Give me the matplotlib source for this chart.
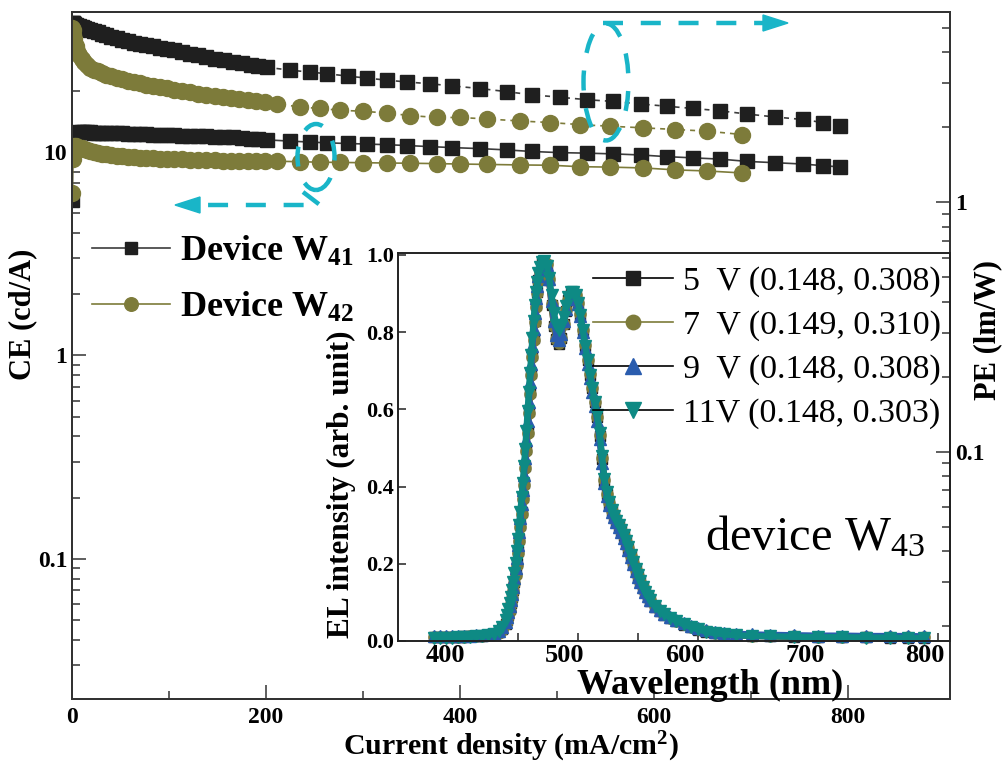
import numpy as np
import matplotlib
matplotlib.use('Agg')
import matplotlib.pyplot as plt
from matplotlib.ticker import FixedLocator, NullFormatter, FuncFormatter, LogLocator
from matplotlib.patches import Ellipse, Polygon
from matplotlib.lines import Line2D
from matplotlib.transforms import ScaledTranslation

plt.rcParams['font.family'] = 'serif'
plt.rcParams['font.serif'] = ['Liberation Serif', 'DejaVu Serif']
plt.rcParams['mathtext.fontset'] = 'custom'
plt.rcParams['mathtext.rm'] = 'Liberation Serif'
plt.rcParams['mathtext.bf'] = 'Liberation Serif:bold'
plt.rcParams['mathtext.it'] = 'Liberation Serif:italic'

"""
1. CE / PE vs current density (devices W41, W42)
"""
J41 = [0.3, 0.8, 1.5, 2.5, 4, 5.5, 7.5, 10, 12.5, 15.5, 19, 22.5, 26.5, 31, 35.5,
       40.5, 46, 51.5, 57.5, 63.5, 70, 76.5, 83.5, 90.5, 98, 105.5, 113.5, 121.5,
       130, 138.5, 147.5, 156.5, 166, 175, 184, 192, 201, 225, 245, 263, 284, 304,
       325, 345, 369, 392, 421, 448, 474, 503, 531, 558, 586, 613, 640, 668, 696,
       725, 753, 774, 792]
CE41 = [5.8, 10.5, 11.8, 12.2, 12.4, 12.45, 12.5, 12.5, 12.5, 12.5, 12.5, 12.45,
        12.45, 12.4, 12.4, 12.38, 12.35, 12.32, 12.3, 12.27, 12.24, 12.2, 12.17,
        12.13, 12.1, 12.07, 12.04, 12.0, 11.96, 11.92, 11.88, 11.84, 11.78, 11.7,
        11.62, 11.54, 11.46, 11.3, 11.18, 11.08, 11.0, 10.93, 10.85, 10.75, 10.62,
        10.5, 10.38, 10.23, 10.05, 9.92, 9.86, 9.78, 9.66, 9.48, 9.35, 9.22, 8.98,
        8.85, 8.72, 8.56, 8.44]
PE41 = [5.25, 5.25, 5.22, 5.18, 5.15, 5.12, 5.08, 5.04, 5.0, 4.95, 4.9, 4.85, 4.8,
        4.74, 4.68, 4.62, 4.55, 4.48, 4.42, 4.35, 4.31, 4.26, 4.22, 4.17, 4.12,
        4.07, 4.01, 3.95, 3.89, 3.83, 3.77, 3.72, 3.66, 3.61, 3.57, 3.52, 3.48,
        3.39, 3.33, 3.28, 3.21, 3.15, 3.09, 3.04, 2.99, 2.93, 2.86, 2.78, 2.70,
        2.64, 2.58, 2.54, 2.48, 2.43, 2.38, 2.33, 2.26, 2.20, 2.15, 2.09, 2.03]

J42 = [0.3, 0.8, 1.5, 2.5, 4, 5.5, 7.5, 10, 12.5, 15.5, 19, 22.5, 26.5, 31, 35.5,
       40.5, 46, 51.5, 57.5, 63.5, 70, 76.5, 83.5, 90.5, 98, 105.5, 113.5, 121.5,
       130, 138.5, 147, 155.5, 164, 172.5, 181, 190, 199, 211, 235, 256, 276, 300,
       325, 348, 376, 400, 428, 462, 493, 524, 555, 589, 622, 655, 691]
CE42 = [6.3, 9.2, 10.4, 10.7, 10.7, 10.6, 10.5, 10.4, 10.3, 10.2, 10.1, 10.0, 9.9,
        9.8, 9.72, 9.65, 9.58, 9.52, 9.47, 9.42, 9.38, 9.34, 9.31, 9.28, 9.25, 9.22,
        9.19, 9.16, 9.13, 9.11, 9.09, 9.07, 9.05, 9.04, 9.03, 9.02, 9.01, 9.0, 8.95,
        8.9, 8.88, 8.85, 8.82, 8.8, 8.76, 8.72, 8.68, 8.63, 8.6, 8.46, 8.42, 8.34,
        8.16, 8.06, 7.88]
PE42 = [5.0, 4.9, 4.7, 4.5, 4.25, 4.05, 3.9, 3.75, 3.65, 3.55, 3.47, 3.4, 3.35, 3.3,
        3.25, 3.2, 3.15, 3.12, 3.08, 3.05, 3.0, 2.96, 2.93, 2.9, 2.87, 2.83, 2.8,
        2.76, 2.72, 2.69, 2.66, 2.64, 2.62, 2.6, 2.57, 2.55, 2.52, 2.49, 2.41, 2.38,
        2.34, 2.32, 2.28, 2.23, 2.19, 2.19, 2.16, 2.12, 2.09, 2.05, 2.02, 1.99,
        1.96, 1.93, 1.87]

"""
2. EL spectra of device W43 (inset)
"""
wl = [380, 385, 390, 395, 400, 405, 410, 415, 420, 425, 430, 434, 437,
      440, 441, 442, 443, 444, 445, 446, 447, 448, 449, 450, 451, 452, 453, 454,
      455, 456, 457, 458, 459, 460, 461, 462, 463, 464, 465, 466, 467, 468,
      470, 472, 474, 476, 478, 480, 482, 484, 486, 488, 490, 492, 494, 496, 498,
      500, 502, 504, 506, 508, 510, 512, 514, 516, 518, 520, 522, 524, 526, 528,
      530, 532, 534, 536, 538, 540, 542, 544, 546, 548, 550, 552, 554, 556, 558,
      560, 564, 568, 572, 577, 582, 588, 594, 600, 607, 614, 622, 632, 645, 660,
      680, 700, 720, 740, 760, 775, 788]
el_5v = [0.010, 0.010, 0.010, 0.011, 0.011, 0.012, 0.012, 0.013, 0.014, 0.015, 0.018, 0.023, 0.030,
         0.045, 0.055, 0.068, 0.082, 0.098, 0.115, 0.132, 0.152, 0.175, 0.202, 0.232, 0.265, 0.300,
         0.335, 0.372, 0.410, 0.452, 0.497, 0.545, 0.595, 0.645, 0.693, 0.740, 0.785, 0.830, 0.870,
         0.905, 0.935, 0.955,
         0.978, 0.985, 0.975, 0.935, 0.870, 0.815, 0.782, 0.770, 0.785, 0.820, 0.855, 0.882, 0.898,
         0.902, 0.895, 0.875, 0.845, 0.805, 0.765, 0.727, 0.690, 0.655, 0.618, 0.580, 0.532, 0.472,
         0.415, 0.380, 0.356, 0.337, 0.322, 0.309, 0.297, 0.284, 0.271, 0.256, 0.239, 0.220, 0.201,
         0.183, 0.167, 0.152, 0.138, 0.126, 0.114, 0.104,
         0.089, 0.078, 0.068, 0.059, 0.051, 0.042, 0.035, 0.029, 0.024, 0.020, 0.017, 0.015, 0.013,
         0.012, 0.011, 0.010, 0.010, 0.010, 0.009, 0.009, 0.009]
el_7v = [0.010, 0.010, 0.010, 0.010, 0.011, 0.011, 0.012, 0.012, 0.013, 0.015, 0.018, 0.022, 0.029,
         0.043, 0.053, 0.065, 0.079, 0.095, 0.112, 0.130, 0.150, 0.172, 0.198, 0.228, 0.260, 0.295,
         0.330, 0.367, 0.405, 0.447, 0.492, 0.540, 0.590, 0.640, 0.688, 0.735, 0.780, 0.825, 0.866,
         0.902, 0.932, 0.953,
         0.977, 0.985, 0.976, 0.937, 0.872, 0.816, 0.782, 0.772, 0.786, 0.822, 0.857, 0.883, 0.899,
         0.903, 0.896, 0.876, 0.846, 0.806, 0.766, 0.728, 0.691, 0.656, 0.619, 0.581, 0.533, 0.473,
         0.416, 0.381, 0.357, 0.338, 0.323, 0.310, 0.298, 0.285, 0.272, 0.257, 0.240, 0.221, 0.202,
         0.184, 0.168, 0.153, 0.139, 0.127, 0.115, 0.105,
         0.090, 0.079, 0.069, 0.060, 0.052, 0.043, 0.036, 0.030, 0.025, 0.021, 0.018, 0.016, 0.014,
         0.013, 0.012, 0.011, 0.011, 0.010, 0.010, 0.010, 0.010]
el_9v = [0.012, 0.012, 0.012, 0.013, 0.013, 0.014, 0.014, 0.015, 0.016, 0.018, 0.021, 0.027, 0.035,
         0.050, 0.061, 0.075, 0.090, 0.106, 0.123, 0.141, 0.163, 0.188, 0.216, 0.248, 0.282, 0.318,
         0.354, 0.391, 0.431, 0.475, 0.521, 0.570, 0.620, 0.670, 0.717, 0.763, 0.808, 0.850, 0.888,
         0.920, 0.945, 0.962,
         0.980, 0.985, 0.974, 0.938, 0.880, 0.828, 0.792, 0.780, 0.795, 0.828, 0.860, 0.885, 0.900,
         0.903, 0.894, 0.873, 0.842, 0.800, 0.758, 0.718, 0.680, 0.645, 0.608, 0.570, 0.522, 0.462,
         0.408, 0.375, 0.352, 0.334, 0.320, 0.307, 0.295, 0.282, 0.268, 0.253, 0.236, 0.217, 0.199,
         0.182, 0.166, 0.152, 0.139, 0.127, 0.116, 0.106,
         0.091, 0.080, 0.071, 0.062, 0.054, 0.046, 0.039, 0.033, 0.028, 0.024, 0.021, 0.019, 0.017,
         0.016, 0.015, 0.014, 0.014, 0.013, 0.013, 0.013, 0.012]
el_11v = [0.008, 0.008, 0.009, 0.009, 0.010, 0.010, 0.011, 0.012, 0.013, 0.015, 0.019, 0.026, 0.036,
          0.055, 0.068, 0.082, 0.098, 0.115, 0.132, 0.152, 0.175, 0.202, 0.232, 0.265, 0.300, 0.335,
          0.372, 0.410, 0.452, 0.497, 0.545, 0.595, 0.645, 0.693, 0.740, 0.785, 0.830, 0.870, 0.905,
          0.930, 0.952, 0.968,
          0.982, 0.985, 0.972, 0.940, 0.895, 0.850, 0.818, 0.805, 0.815, 0.840, 0.868, 0.890, 0.903,
          0.905, 0.895, 0.875, 0.845, 0.805, 0.765, 0.727, 0.690, 0.655, 0.620, 0.585, 0.540, 0.480,
          0.420, 0.385, 0.360, 0.340, 0.325, 0.312, 0.300, 0.288, 0.275, 0.260, 0.243, 0.224, 0.205,
          0.187, 0.170, 0.155, 0.141, 0.128, 0.116, 0.106,
          0.090, 0.079, 0.069, 0.060, 0.052, 0.043, 0.036, 0.030, 0.024, 0.020, 0.017, 0.015, 0.013,
          0.012, 0.011, 0.010, 0.010, 0.009, 0.009, 0.008, 0.008]
el_labels = ['5  V (0.148, 0.308)', '7  V (0.149, 0.310)',
             '9  V (0.148, 0.308)', '11V (0.148, 0.303)']

# colours
blk = '#1f1f1f'
olv = '#7d7b3a'
blu = '#2a5cae'
tea = '#0e8a84'
cyan = '#19b5c8'

W, H = 1007, 765
fig = plt.figure(figsize=(W / 100, H / 100), dpi=100)

def fx(px):
    return px / W

def fy(py):
    return 1 - py / H

# main axes
ax = fig.add_axes([fx(72), fy(699), fx(950) - fx(72), fy(12) - fy(699)])
ax.set_yscale('log')
ax.set_xlim(0, 905)
ax.set_ylim(0.0205, 48.7)
ax2 = ax.twinx()
ax2.set_yscale('log')
ax2.set_ylim(0.0102, 5.8)

ax.plot(J41, CE41, '-', color='#3c3c3c', lw=1.2, marker='s', ms=10, mfc=blk, mec=blk,
        label=r'Device W$_{\mathbf{41}}$')
ax.plot(J42, CE42, '-', color=olv, lw=1.2, marker='o', ms=11.5, mfc=olv, mec=olv,
        label=r'Device W$_{\mathbf{42}}$')
ax2.plot(J41, PE41, color='#3c3c3c', lw=1.2, ls=(0, (3, 3)), marker='s', ms=10, mfc=blk, mec=blk)
ax2.plot(J42, PE42, color=olv, lw=1.2, ls=(0, (3, 3)), marker='o', ms=11.5, mfc=olv, mec=olv)

for a in (ax, ax2):
    for s in a.spines.values():
        s.set_linewidth(1.4)
        s.set_color('#333333')

ax.set_xticks([0, 200, 400, 600, 800])
ax.set_xticks([100, 300, 500, 700], minor=True)
ax.yaxis.set_major_locator(FixedLocator([0.1, 1, 10]))
ax.yaxis.set_minor_locator(LogLocator(base=10, subs=np.arange(2, 10) * 1.0, numticks=20))
ax.yaxis.set_major_formatter(FuncFormatter(lambda v, p: f'{v:g}'))
ax.yaxis.set_minor_formatter(NullFormatter())
ax2.yaxis.set_major_locator(FixedLocator([0.01, 0.1, 1]))
ax2.yaxis.set_minor_locator(LogLocator(base=10, subs=np.arange(2, 10) * 1.0, numticks=20))
ax2.yaxis.set_major_formatter(FuncFormatter(lambda v, p: f'{v:g}'))
ax2.yaxis.set_minor_formatter(NullFormatter())

ax.tick_params(which='both', direction='in', top=False, right=False, width=1.1,
               labelsize=17, color='#333333')
ax.tick_params(which='major', length=10)
ax.tick_params(which='minor', length=5.5)
ax.tick_params(axis='x', pad=6)
ax2.tick_params(which='both', direction='in', width=1.1, labelsize=17, color='#333333')
ax2.tick_params(which='major', length=10)
ax2.tick_params(which='minor', length=5.5)
for lab in ax.get_xticklabels() + ax.get_yticklabels() + ax2.get_yticklabels():
    lab.set_fontweight('bold')

ax.set_xlabel(r'Current density (mA/cm$^{\mathbf{2}}$)', fontsize=21.5, fontweight='bold')
ax.xaxis.set_label_coords(0.5, -0.045)
ax.set_ylabel('CE (cd/A)', fontsize=22, fontweight='bold')
ax.yaxis.set_label_coords(-0.04, 0.56)
ax2.set_ylabel('PE (lm/W)', fontsize=22, fontweight='bold')
ax2.yaxis.set_label_coords(1.026, 0.537)

ax.legend(loc='upper left', bbox_to_anchor=(fx(92), fy(235)), bbox_transform=fig.transFigure,
          frameon=False, prop={'weight': 'bold', 'size': 26}, handlelength=2.15,
          handletextpad=0.28, borderaxespad=0, borderpad=0, labelspacing=0.6, markerscale=0.85)

# inset: EL spectra (dense measured points drawn as a thick band with markers)
axi = fig.add_axes([fx(398), fy(641), fx(950) - fx(398), fy(253) - fy(641)])
axi.set_facecolor('none')
spec = [(el_5v, blk, 's', 7.5, 'black'), (el_7v, olv, 'o', 8, olv),
        (el_9v, blu, '^', 8.5, 'black'), (el_11v, tea, 'v', 8.5, 'black')]
handles = []
for (vals, col, mk, ms, lcol), lab in zip(spec, el_labels):
    axi.plot(wl, vals, '-', color=col, lw=4.5, solid_capstyle='round', marker=mk, ms=ms,
             mfc=col, mec=col, clip_on=False)
    handles.append(Line2D([], [], color=lcol, lw=1.2, marker=mk, ms=ms * 1.3, mfc=col, mec=col,
                          label=lab))
axi.set_xlim(350, 810)
axi.set_ylim(0, 1.005)
axi.set_xticks([400, 500, 600, 700, 800])
axi.set_xticks([450, 550, 650, 750], minor=True)
axi.set_yticks([0, 0.2, 0.4, 0.6, 0.8, 1.0])
axi.yaxis.set_major_formatter(FuncFormatter(lambda v, p: f'{v:.1f}'))
axi.tick_params(which='both', direction='in', top=False, right=False, length=5.5, width=1.1,
                color='#222222')
axi.tick_params(axis='x', labelsize=19, pad=2)
axi.tick_params(axis='y', labelsize=16, pad=3)
for s in axi.spines.values():
    s.set_linewidth(1.4)
    s.set_color('#222222')
for lab in axi.get_xticklabels():
    lab.set_fontweight('bold')
    lab.set_transform(lab.get_transform() + ScaledTranslation(-0.13, 0, fig.dpi_scale_trans))
for lab in axi.get_yticklabels():
    lab.set_fontweight('bold')
axi.set_xlabel('Wavelength (nm)', fontsize=26, fontweight='bold')
axi.xaxis.set_label_coords(0.565, -0.072)
axi.set_ylabel('EL intensity (arb. unit)', fontsize=22.5, fontweight='bold')
axi.yaxis.set_label_coords(-0.076, 0.405)
axi.legend(handles=handles, loc='upper left', bbox_to_anchor=(fx(593), fy(266)),
           bbox_transform=fig.transFigure, frameon=False, fontsize=24.5, handlelength=2.35,
           handletextpad=0.3, borderaxespad=0, borderpad=0, labelspacing=0.38)
fig.text(fx(705), fy(550), r'device W$_{\mathrm{43}}$', fontsize=35, va='baseline')

# cyan dashed guides pointing to the matching axis
dash = (0, (4.5, 4))

def guide(pts, ell, head):
    xs = [fx(p[0]) for p in pts]
    ys = [fy(p[1]) for p in pts]
    fig.add_artist(Line2D(xs, ys, transform=fig.transFigure, color=cyan, lw=3.2, ls=dash))
    fig.add_artist(Ellipse((fx(ell[0]), fy(ell[1])), ell[2] / W, ell[3] / H,
                           transform=fig.transFigure, fill=False, ec=cyan, lw=3.2, ls=dash))
    fig.add_artist(Polygon([(fx(p[0]), fy(p[1])) for p in head], closed=True,
                           transform=fig.transFigure, fc=cyan, ec=cyan, lw=1))

guide([(303, 192), (320, 205), (200, 205)], (316, 157, 37, 66),
      [(175, 205), (200, 197), (200, 213)])
guide([(603, 23), (765, 23)], (606, 82, 45, 117),
      [(788, 23), (763, 15), (763, 31)])

fig.savefig('out.png', dpi=100)
